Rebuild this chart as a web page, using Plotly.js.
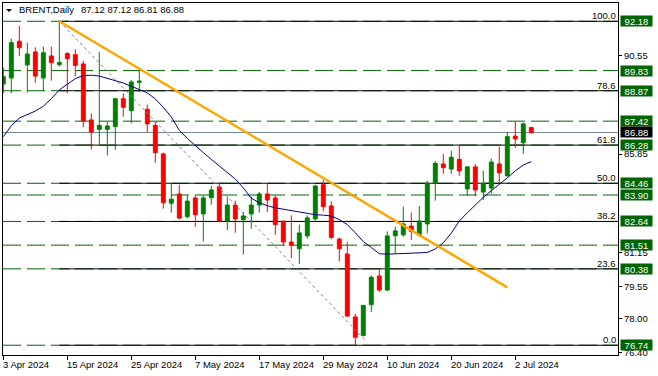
<!DOCTYPE html>
<html><head><meta charset="utf-8">
<script src="https://cdn.plot.ly/plotly-3.0.1.min.js"></script>
<style>html,body{margin:0;padding:0;background:#fff;}#chart{width:658px;height:376px;}</style>
</head><body><div id="chart"></div>
<script>
const symbolTitle = 'BRENT,Daily';
const lastQuote = '87.12 87.12 86.81 86.88';

const open  = [89.19,89.48,91.23,90.10,90.72,89.48,90.53,90.11,90.65,90.59,
               90.15,87.48,87.03,87.03,87.16,88.49,87.92,89.27,87.99,87.22,
               85.86,83.51,83.95,82.87,83.76,83.00,83.77,84.28,82.65,83.42,
               82.72,83.00,83.42,83.95,83.76,82.65,81.66,81.34,81.95,82.76,
               84.39,83.38,81.80,81.09,78.09,77.21,78.67,80.04,79.37,81.96,
               82.00,82.42,82.00,82.52,84.46,85.38,85.14,85.60,84.19,85.24,
               84.04,84.23,85.38,84.81,86.71,86.39,87.12];
const high  = [89.99,91.35,91.96,91.16,90.94,90.97,90.97,92.18,90.70,90.85,
               90.30,87.79,90.72,87.38,88.52,88.75,89.38,89.89,88.21,87.38,
               85.92,84.46,84.39,83.89,83.89,83.89,84.33,84.52,83.82,83.63,
               83.09,83.82,84.04,84.46,83.89,82.68,82.93,82.49,82.93,84.39,
               84.62,83.60,81.88,81.66,78.23,78.66,80.07,80.33,82.17,82.39,
               83.34,83.06,83.38,84.58,85.51,85.86,86.01,86.24,85.28,85.38,
               85.06,85.63,86.20,86.90,87.42,87.35,87.12];
const low   = [88.75,88.75,90.53,88.78,89.25,88.84,89.35,90.02,88.75,89.57,
               87.13,86.08,86.24,85.79,86.05,87.63,87.32,88.81,86.90,85.44,
               83.25,83.06,82.74,82.77,82.39,81.69,83.44,82.65,82.23,82.10,
               81.06,82.29,83.06,83.09,82.01,81.50,80.90,80.61,81.82,82.68,
               83.12,81.79,80.74,78.10,76.74,77.15,78.32,79.28,79.31,81.12,
               81.91,81.76,81.91,82.08,83.63,84.90,84.90,84.81,83.85,83.85,
               83.66,83.95,84.46,84.81,86.14,85.86,86.81];
const close = [89.54,91.16,90.92,90.62,89.57,90.68,90.21,90.21,90.40,90.08,
               87.43,86.90,87.22,87.19,88.49,88.08,89.29,89.33,87.29,85.92,
               83.53,83.70,82.80,83.61,82.96,83.76,84.14,82.66,83.42,82.76,
               82.90,83.42,83.95,83.66,82.49,81.66,81.50,82.09,82.81,84.33,
               83.34,81.88,81.34,78.13,77.12,78.64,79.98,79.37,81.95,82.19,
               82.52,82.17,82.66,84.46,85.41,85.20,85.70,85.05,85.24,84.14,
               84.46,85.47,84.96,86.68,86.57,87.29,86.88];
const ma    = [86.68,87.20,87.57,87.74,87.90,88.13,88.49,88.91,89.20,89.45,
               89.59,89.61,89.57,89.46,89.36,89.24,89.08,88.92,88.77,88.48,
               88.08,87.62,86.98,86.60,86.25,85.92,85.60,85.28,84.97,84.66,
               84.24,83.75,83.53,83.39,83.29,83.23,83.17,83.11,83.03,82.96,
               82.94,82.90,82.73,82.49,82.10,81.68,81.40,81.10,81.08,81.10,
               81.11,81.13,81.14,81.16,81.33,81.62,82.08,82.66,83.05,83.43,
               83.79,84.10,84.40,84.72,85.05,85.33,85.49];

const tickIdx    = [0, 8, 16, 24, 32, 40, 48, 56, 64];
const tickLabels = ['3 Apr 2024','15 Apr 2024','25 Apr 2024','7 May 2024','17 May 2024',
                    '29 May 2024','10 Jun 2024','20 Jun 2024','2 Jul 2024'];

const fibLevels = [92.18, 88.87, 86.28, 84.46, 82.64, 80.38, 76.74];
const fibLabels = ['100.0','78.6','61.8','50.0','38.2','23.6','0.0'];
const fibStartIdx = 7;
const hLevels = [92.18, 89.83, 88.87, 87.42, 86.28, 84.46, 83.90, 82.64, 81.51, 80.38, 76.74];
const greenOnTop = [82.64, 80.38];
const bidPrice = 86.88;
const trendX = [7, 63];
const trendY = [92.18, 79.50];
const fibDiagX = [7, 45.4];
const fibDiagY = [92.18, 76.91];
const yTickVals = [90.55, 85.85, 81.15, 79.55, 78.00, 76.40];
const yTickText = ['90.55','85.85','81.15','79.55','78.00','76.40'];

const xRange = [-0.04, 76.84];
const yRange = [76.274, 93.052];
const FONT = 'Liberation Sans, Arial, sans-serif';
const FS = 9.5;
const GREEN = '#006400';

const idx = open.map((_, i) => i);

const traces = [
  {type:'scatter', mode:'lines', x:fibDiagX, y:fibDiagY,
   line:{color:'#808080', width:1, dash:'dot'}, hoverinfo:'skip'},
  {type:'scatter', mode:'lines', x:idx, y:ma,
   line:{color:'#000080', width:1}, hoverinfo:'skip'},
  {type:'scatter', mode:'lines', x:trendX, y:trendY,
   line:{color:'#FFA500', width:2.5}, hoverinfo:'skip'},
  {type:'candlestick', x:idx, open:open, high:high, low:low, close:close,
   increasing:{line:{color:'#008000', width:1}, fillcolor:'#008000'},
   decreasing:{line:{color:'#FF0000', width:1}, fillcolor:'#FF0000'},
   whiskerwidth:0, hoverinfo:'skip'}
];

const shapes = [];
function greenLine(v){ shapes.push({type:'line', layer:'below', xref:'paper', x0:0, x1:1, yref:'y', y0:v, y1:v,
  line:{color:GREEN, width:1, dash:'18px,6px'}}); }
function blackLine(v){ shapes.push({type:'line', layer:'below', xref:'x', x0:fibStartIdx, x1:xRange[1], yref:'y', y0:v, y1:v,
  line:{color:'#000000', width:1}}); }
fibLevels.filter(v => greenOnTop.includes(v)).forEach(blackLine);
hLevels.forEach(greenLine);
fibLevels.filter(v => !greenOnTop.includes(v)).forEach(blackLine);
shapes.push({type:'line', layer:'below', xref:'paper', x0:0, x1:1, yref:'y', y0:bidPrice, y1:bidPrice,
  line:{color:'#778899', width:1}});
// title triangle
shapes.push({type:'path', xref:'paper', yref:'paper', xsizemode:'pixel', ysizemode:'pixel',
  xanchor:0, yanchor:1, path:'M3,-6 L9,-6 L6,-9 Z', fillcolor:'#000', line:{width:0}});

const annotations = [];
annotations.push({xref:'paper', yref:'paper', x:0, y:1, xanchor:'left', yanchor:'top', xshift:15, yshift:0,
  text:symbolTitle, showarrow:false, font:{family:FONT, size:FS, color:'#000'}, borderpad:0});
annotations.push({xref:'paper', yref:'paper', x:0, y:1, xanchor:'left', yanchor:'top', xshift:77, yshift:0,
  text:lastQuote, showarrow:false, font:{family:FONT, size:FS, color:'#000'}, borderpad:0});
fibLevels.forEach((v, i) => annotations.push({xref:'paper', yref:'y', x:1, y:v, xanchor:'right', yanchor:'bottom',
  xshift:-1, yshift:-1, text:fibLabels[i], showarrow:false, font:{family:FONT, size:FS, color:'#000'}, borderpad:0}));
hLevels.forEach(v => annotations.push({xref:'paper', yref:'y', x:1, y:v, xanchor:'left', yanchor:'middle',
  xshift:2, text:v.toFixed(2), showarrow:false, bgcolor:GREEN, width:31, height:10, borderpad:0,
  font:{family:FONT, size:FS, color:'#fff'}}));
annotations.push({xref:'paper', yref:'y', x:1, y:bidPrice, xanchor:'left', yanchor:'middle',
  xshift:2, text:bidPrice.toFixed(2), showarrow:false, bgcolor:'#000', width:31, height:10, borderpad:0,
  font:{family:FONT, size:FS, color:'#fff'}});
tickIdx.forEach((v, i) => annotations.push({xref:'x', yref:'paper', x:v, y:0, xanchor:'left', yanchor:'top',
  xshift:-1, yshift:-3, text:tickLabels[i], showarrow:false, font:{family:FONT, size:FS, color:'#000'}, borderpad:0}));

const layout = {
  width:658, height:376,
  margin:{l:3, r:40, t:3, b:21, pad:0},
  paper_bgcolor:'#fff', plot_bgcolor:'#fff',
  showlegend:false,
  font:{family:FONT, size:FS, color:'#000'},
  xaxis:{type:'linear', range:xRange, showgrid:false, zeroline:false, showline:true, linecolor:'#000', linewidth:1,
    mirror:true, ticks:'outside', ticklen:4, tickcolor:'#000', tickvals:tickIdx, showticklabels:false,
    rangeslider:{visible:false}, fixedrange:true},
  yaxis:{side:'right', range:yRange, showgrid:false, zeroline:false, showline:true, linecolor:'#000', linewidth:1,
    mirror:true, ticks:'outside', ticklen:3, tickcolor:'#000', tickvals:yTickVals, ticktext:yTickText,
    tickfont:{family:FONT, size:FS, color:'#000'}, fixedrange:true},
  shapes:shapes,
  annotations:annotations
};

Plotly.newPlot('chart', traces, layout, {staticPlot:true, displayModeBar:false});
</script>
</body></html>
